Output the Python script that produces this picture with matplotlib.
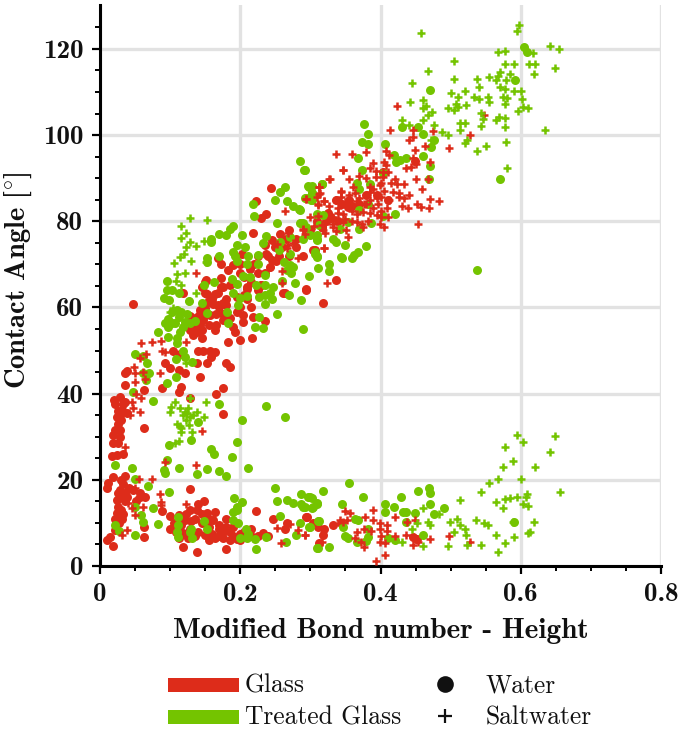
#!/usr/bin/env python3
# -*- coding: utf-8 -*-
"""
Contact angle against modified Bond number
"""

import matplotlib
matplotlib.use('Agg')
import matplotlib.pyplot as plt
from matplotlib.lines import Line2D
from matplotlib.patches import Rectangle
import numpy as np

RED = '#dd2c1a'
GREEN = '#74c400'
GRID = '#e2e2e2'

X_TICKS = [0, 0.2, 0.4, 0.6, 0.8]
X_LABELS = ['0', '0.2', '0.4', '0.6', '0.8']
Y_TICKS = [0, 20, 40, 60, 80, 100, 120]

# (bond number, angle)
glass_water = [
    (.0095,6.0),(.014,6.8),(.018,4.7),(.021,8.4),(.012,19.2),(.019,20.7),(.010,18),(.036,21),(.033,19),(.028,17.6),
    (.036,16.9),(.024,15.3),(.026,13.8),(.024,12.2),(.031,11),(.038,16),(.047,17.6),(.057,16),(.064,16),(.057,17),
    (.128,17.9),(.063,9),(.063,6.8),(.089,12.8),(.1,11.6),(.1,8.7),(.112,11.8),(.121,10.7),(.128,13),(.14,14.5),
    (.149,15.2),(.138,13),(.152,12.2),(.164,12.6),(.161,10.7),(.179,11),(.128,8.7),(.119,7.6),(.145,9.9),(.15,7.2),
    (.164,6.4),(.176,6.4),(.185,6),(.195,6.2),(.216,8.7),(.233,7.6),(.24,7),(.112,6.4),(.118,4.5),(.139,3.3),
    (.179,3.9),(.222,12.8),(.247,11),(.295,11.4),(.266,9.9),(.264,8.7),(.155,9),(.17,8.5),(.185,8),(.2,7.5),
    (.135,7),(.125,6.5),(.16,7.5),(.175,8),(.19,7),(.21,6.8),(.105,10),(.115,9.5),(.13,10.5),(.145,12),
    (.03,13),(.035,15),(.027,10),(.042,18),(.052,15),(.03,20),(.03,16),(.033,12),(.025,17),(.022,11),
    (.156,10.8),(.17,9.5),(.18,9),(.19,9),(.205,8),(.215,7),(.225,7),(.17,7),(.14,8),(.108,8),(.122,12),(.135,11),(.155,6),(.2,6),
    (.294,11.4),(.304,10),(.311,9),(.32,8.7),(.318,7.2),(.332,9.5),(.313,5.4),(.344,9.9),(.447,6.8),(.452,6.2),
    (.021,37.7),(.028,39.3),(.02,38.5),(.033,37.7),(.038,35.4),(.031,36.2),(.024,34.6),(.026,33),(.021,31.6),(.019,30.4),
    (.028,31.6),(.028,30),(.019,28.5),(.026,28.5),(.017,25.6),(.024,25.8),(.033,26),(.063,32),(.036,44.7),(.039,45.2),
    (.036,42.1),(.063,40.8),(.089,41.4),(.112,40.4),(.116,41.5),(.175,41.2),(.165,40),(.175,35.3),(.128,39.1),(.142,43.9),
    (.121,44.7),(.112,45.5),(.1,45.9),(.092,47),(.152,47),(.139,47),(.179,47.2),(.185,46.2),(.157,50),(.164,49.7),
    (.159,48.6),(.147,50),(.14,50),(.114,49.3),(.104,50),(.145,52.8),(.133,53.6),(.199,52.4),(.183,52),(.19,55.5),
    (.192,54.4),(.204,56.7),(.204,58.2),(.218,57.8),(.236,56.9),(.217,53),(.164,54.8),(.138,55.5),(.147,57),(.155,56),
    (.166,58.6),(.176,57),(.142,58.6),(.128,58),(.03,34),(.035,38),(.029,35),(.026,36),
    (.047,60.8),(.244,87.8),(.222,84.7),(.237,81.8),(.23,80.7),(.218,77.2),(.257,77),(.245,75.6),(.235,74.5),(.237,72.5),
    (.203,72.5),(.173,70),(.168,71.4),(.19,69.8),(.183,68.7),(.173,66.9),(.151,66.4),(.145,64.8),(.176,64.8),(.168,63.3),
    (.15,63.3),(.119,63.3),(.209,64.8),(.206,67),(.226,67.9),(.214,69),(.199,67.9),(.251,70.8),(.242,69.4),(.23,65.2),
    (.261,63.3),(.294,64),(.318,61),(.336,66.4),(.304,73.3),(.316,78.7),(.337,84.9),(.354,83.4),
    (.15,66),(.152,63.2),(.164,63.2),(.173,64.8),(.185,65.2),(.209,64.4),(.23,65.2),(.264,63.3),(.294,64.2),
    (.154,61.3),(.161,60.9),(.168,60.5),(.142,59.4),(.15,59.8),(.157,58.2),(.138,57.8),(.147,57.8),(.133,56.3),(.142,56),
    (.128,54.8),(.138,54.4),(.145,54.8),(.176,58.6),(.18,60.6),(.195,62.5),(.2,60),(.21,62),
    (.355,85),(.36,83.5),(.33,80.8),(.322,80),(.317,78.7),(.306,73.3),(.449,94),(.403,91.5),(.28,74),(.27,72),
    (.16,62),(.17,60),(.18,62),(.19,66),(.2,70),(.215,66),(.225,72),(.24,72),(.25,74),(.26,74),(.27,78),
    (.28,76),(.29,72),(.3,78),(.31,80),(.325,82),(.34,80),(.345,84),(.37,84),(.38,86),(.395,86),(.41,85),
    (.165,56),(.175,61),(.185,57.5),(.195,59),(.205,63),(.215,60),(.225,64),(.22,70),(.235,68),(.245,71),(.255,72),(.265,76),
]

treated_water = [
    (.285,94),(.292,91.9),(.264,87.9),(.257,86.7),(.249,85),(.218,84),(.267,84.7),(.275,83.5),(.284,82.8),(.297,88.2),
    (.302,88.3),(.317,88.6),(.303,86.5),(.294,85.5),(.302,84.9),(.22,81.3),(.253,79.7),(.285,79.7),(.29,79.5),(.294,78.7),
    (.19,78.9),(.186,78.3),(.18,76.8),(.17,77),(.202,76.8),(.159,75.3),(.158,76),(.237,76.6),(.271,76.4),(.309,76.8),
    (.309,75.6),(.195,74.5),(.207,74.1),(.19,72.9),(.232,74.9),(.256,75.2),(.255,73.3),(.271,72.5),(.211,72),(.225,72.2),
    (.17,72),(.192,71.9),(.153,71.4),(.152,70.6),(.195,70.9),(.209,70.2),(.226,70.2),(.263,70.6),(.275,69.4),(.271,69.8),
    (.273,68),(.266,68.6),(.278,65.6),(.306,72.9),(.309,71.9),(.345,71.4),(.327,70),(.326,68.4),(.311,69.2),(.298,67.4),
    (.259,66.2),(.188,66.7),(.163,65.8),(.149,65.2),(.236,67.5),(.204,67.2),(.214,67.1),(.195,65.4),(.222,65.2),(.236,65.2),
    (.246,64.8),(.235,62.9),(.242,63.3),(.189,63.3),(.199,62.1),(.209,62.6),(.227,62.5),(.197,60.6),(.235,60.8),(.245,62),
    (.269,62.8),(.287,61.7),(.253,58.4),(.227,57.8),(.145,61),(.127,61.6),(.096,66.2),(.095,64),(.102,64),(.091,62.3),
    (.099,61.7),(.112,63.3),(.181,59),(.153,58.8),(.182,56.5),(.221,55.5),(.233,55.3),(.29,54.9),
    (.093,56.5),(.097,57.4),(.102,59),(.11,59.4),(.116,59),(.124,58.6),(.112,57.8),(.102,56.3),(.107,56.3),(.121,56.7),
    (.128,56.3),(.135,56.9),(.119,55.5),(.114,54.4),(.11,52.8),(.11,51.7),(.097,55.5),(.097,53.2),(.083,54.4),(.119,50),
    (.109,48),(.121,48.4),(.131,47.4),(.108,43.9),(.095,42.4),(.05,49.3),(.062,48.7),(.067,47),(.07,44.9),(.062,44.8),
    (.066,43.2),(.047,40.4),(.075,38.3),(.17,37.6),(.237,37.1),(.264,34.5),(.202,33.9),(.14,33.5),(.13,29.2),(.098,28),
    (.195,28.8),(.159,27.1),(.163,25.9),(.188,25.4),(.096,24.6),(.022,23.4),(.045,22.7),(.091,22.3),(.092,21.5),(.112,22.7),
    (.152,22.5),(.17,22.1),(.138,21.4),(.18,20.9),(.211,22.8),(.05,20.2),(.069,18.6),(.099,17.2),(.249,18.2),(.253,15.2),
    (.266,15.3),(.275,14.7),(.287,16.6),(.287,14.4),(.297,16),(.302,15.7),(.29,13.6),(.303,13.5),(.309,14.5),(.191,15.7),
    (.202,14.9),(.195,13.8),(.19,12.6),(.195,13),(.075,13.4),(.059,11.8),(.061,10.3),(.05,13.8),(.083,9.7),(.05,7.3),
    (.021,9.5),(.027,8.2),(.111,11.3),(.111,9.5),(.11,8),(.111,6.8),(.13,8.7),(.128,8),(.131,6.4),(.149,10.5),
    (.153,8.5),(.19,10.7),(.197,9.9),(.199,6.4),(.208,8.7),(.209,6.4),(.211,7.5),(.221,6.2),(.237,6.8),(.222,3.9),
    (.257,11.6),(.285,10),(.279,7.3),(.265,5.6),(.298,9),(.311,10.5),(.31,4.1),
    (.355,19.3),(.318,17.5),(.299,16),(.309,14.7),(.292,13.8),(.304,13.6),(.345,14.5),(.375,16),(.454,17.5),(.469,18.2),
    (.47,16.9),(.429,15.9),(.406,14.3),(.406,12.6),(.419,13.8),(.432,12.5),(.437,12.5),(.449,12.2),(.471,14.4),(.477,12.1),
    (.491,13.5),(.46,7.2),(.312,10.4),(.299,9),(.311,4.1),(.327,4.5),(.363,10.9),(.368,10.6),(.347,9),(.349,7),
    (.354,6.6),(.366,5.6),(.382,8.7),(.382,6.8),(.38,5.9),(.411,6.6),(.42,6),(.437,10.1),(.591,10.3),
    (.605,120.5),(.609,119.3),(.47,110.4),(.592,112.9),(.571,89.8),(.376,102.6),(.382,100.2),(.374,98.5),(.382,98),(.406,98),
    (.368,94.7),(.431,101.9),(.453,102),(.46,100.2),(.477,98.8),(.472,97.3),(.419,95.5),(.422,93.7),(.437,94.6),(.428,94.2),
    (.46,95.1),(.471,92.9),(.469,89.8),(.374,91.9),(.403,91.2),(.291,91.9),(.298,88),(.317,88.6),(.303,86.6),(.292,85.3),
    (.301,84.9),(.366,88.8),(.37,87.6),(.385,88.6),(.382,84.1),(.37,82.6),(.42,81.8),(.403,81.2),(.387,79.5),(.37,78.3),
    (.309,81.8),(.318,81.4),(.353,79.9),(.342,78.3),(.332,76),(.337,75.2),(.35,74.5),(.38,74.3),(.368,72.9),(.362,72.2),
    (.344,71.6),(.36,71.4),(.306,72.4),(.309,71.8),(.309,76),(.299,76.8),(.29,76),(.287,79.5),(.313,79.1),(.285,82.6),
    (.537,68.7),
]

glass_salt = [
    (.424,106.7),(.414,101.2),(.446,101.3),(.475,100.9),(.527,100),(.548,104.6),(.441,98.8),(.446,99.6),(.463,97.5),(.449,96.5),
    (.497,96.9),(.336,95.6),(.359,95.6),(.38,96),(.408,96.4),(.412,95.4),(.446,94.6),(.451,93.4),(.47,93.8),(.385,92.4),
    (.346,92),(.327,89.9),(.355,89.9),(.405,93.8),(.408,93),(.393,91.7),(.403,91.4),(.393,90.2),(.403,90.2),(.42,89.9),
    (.436,92.3),(.443,92.6),(.451,89.9),(.468,89.9),(.313,88),(.423,88.6),(.434,88.6),(.459,87.4),(.385,88),(.399,88.4),
    (.361,88),(.344,87),(.313,86.3),(.294,85.2),(.344,85.6),(.337,84.9),(.319,84.7),(.311,83.9),(.327,83.5),(.35,84.5),
    (.364,86.5),(.366,84.7),(.385,86.8),(.401,85.6),(.418,86.8),(.427,86.5),(.441,86.2),(.427,85.6),(.434,85.4),(.471,85.1),
    (.484,84.7),(.452,83.9),(.458,83.4),(.469,83.2),(.439,83),(.43,83.5),(.409,83.2),(.385,84.9),(.396,84.1),(.389,83),
    (.376,84.1),(.375,82.2),(.347,81.8),(.401,82.4),(.401,81),(.311,81.2),(.332,81),(.453,79.3),(.399,79.3),(.405,78.7),
    (.366,81.6),(.382,80),(.373,79.3),(.375,78.7),(.351,78),(.354,76.4),(.318,78),(.316,79.2),(.29,78),(.292,77),
    (.319,73.7),(.332,79.3),(.347,79.9),(.366,79.9),
    (.347,92),(.328,89.9),(.312,87.9),(.314,86.5),(.309,85.7),(.294,85.2),(.319,84.8),(.311,83.8),(.264,82.4),(.344,86.9),
    (.289,78.1),(.268,77.4),(.332,78.7),(.337,77.7),(.321,77.2),(.252,74.7),(.275,75),(.266,73.7),(.268,74.5),(.319,73.7),
    (.283,71.4),(.259,68.4),(.259,65.6),(.324,65.6),(.137,68.1),(.242,69.4),
    (.34,83),(.355,86),(.37,85.5),(.38,84),(.39,87.5),(.395,85.5),(.405,87),(.412,85),(.415,89),(.38,90),(.39,93.5),(.4,89),
    (.41,91.5),(.37,90.5),(.36,82.5),(.35,80.5),(.34,82),(.325,80),(.395,81.5),(.41,81),(.385,82),(.36,80),(.3,81),(.305,79),
    (.059,51.7),(.074,52.1),(.087,52.2),(.066,49.2),(.057,48.3),(.088,49.9),(.093,49.6),(.049,46.1),(.05,44.7),(.062,45.1),
    (.064,43.5),(.085,44.7),(.05,42.8),(.052,40),(.059,38.9),(.045,38.1),(.047,36.6),(.043,35),(.057,35.7),(.035,27.7),
    (.146,31.4),(.093,24.2),(.137,23.4),(.055,20.1),(.074,20.1),(.05,18),(.085,16.7),(.087,14.9),(.087,14.1),(.122,14.5),
    (.04,14.7),(.045,13.4),(.055,16),(.062,13.8),(.05,11.8),(.038,8.4),(.031,7.2),(.252,8.9),(.271,9.7),(.283,8.4),
    (.292,7.2),(.258,5.3),(.122,52),
    (.349,12.8),(.357,12.4),(.342,10.7),(.346,10.3),(.352,10.7),(.39,13),(.378,11.3),(.39,10.7),(.42,11.3),(.449,10.7),
    (.438,10.3),(.399,10),(.409,9.5),(.399,8.7),(.409,8.1),(.386,8.2),(.367,8),(.376,8.7),(.363,6.4),(.372,5.6),
    (.377,4.3),(.401,7),(.399,5.6),(.406,5.3),(.42,7),(.436,7.3),(.447,6.7),(.451,6.2),(.447,4.9),(.453,5.6),
    (.47,6.2),(.497,7),(.527,5.6),(.406,2.5),(.394,1.2),(.292,7.2),(.316,5.6),
]

treated_salt = [
    (.458,123.7),(.597,125.6),(.594,124.2),(.642,120.8),(.655,119.9),(.568,119.4),(.578,119.6),(.617,119.1),(.505,117.3),(.577,116.6),
    (.591,116.6),(.612,116.6),(.62,116.6),(.649,115.5),(.468,114.8),(.619,114.2),(.57,114.7),(.568,113.7),(.565,112.9),(.555,113.4),
    (.537,113.1),(.505,113),(.445,112.1),(.585,114.3),(.579,112.8),(.541,111.2),(.521,110.3),(.5,109.8),(.57,111.1),(.578,110.6),
    (.591,110.2),(.6,110.3),(.534,108.9),(.541,108.5),(.553,108.9),(.555,107.7),(.51,108.8),(.574,108.9),(.581,108.6),(.602,108.4),
    (.508,107.3),(.577,107.2),(.522,106.9),(.442,107.8),(.461,108.1),(.465,106.8),(.46,106.2),(.496,106.2),(.505,105.8),(.51,106.6),
    (.603,106.6),(.611,106.2),(.596,105.6),(.473,105.3),(.468,104.7),(.461,103.5),(.544,105.2),(.546,103.8),(.565,103.6),(.569,104.1),
    (.577,104),(.43,103.6),(.44,102.3),(.513,102.7),(.521,102.9),(.544,102.1),(.578,101.9),(.634,101.3),(.513,101.2),(.487,100.8),
    (.496,100),(.524,98.8),(.52,98.2),(.55,97.5),(.579,98.3),(.538,96.3),(.581,92.4),(.477,102.3),(.472,98.8),
    (.595,30.4),(.649,30.2),(.578,27.7),(.603,28.7),(.642,26.4),(.589,24.4),(.575,23),(.62,23),(.568,20.1),(.6,20.1),
    (.555,19.2),(.543,17.1),(.656,17.1),(.513,15.3),(.609,16.7),(.607,15.9),(.594,15.9),(.584,15.7),(.577,15.5),(.565,14.9),
    (.603,14.5),(.611,13.9),(.575,13.4),(.461,13.4),(.483,12.1),(.509,11),(.499,10.3),(.536,10.7),(.547,10),(.553,9.5),
    (.619,10.3),(.468,10.3),(.47,9.4),(.513,9.5),(.521,8.5),(.505,8),(.522,7.2),(.564,7.2),(.591,6.7),(.613,8),
    (.61,7.6),(.445,8.7),(.452,10),(.43,5.6),(.46,4.7),(.496,4.6),(.524,4.9),(.544,4.9),(.577,5.3),(.568,3.3),(.589,10.3),
    (.107,38.1),(.101,37),(.1,35.8),(.114,36.6),(.121,35.8),(.126,36.6),(.138,35.8),(.151,38),(.148,34.6),(.119,35),
    (.128,34.6),(.124,35.5),(.133,35),(.128,38.9),(.11,32.9),(.114,32.6),(.127,32.7),(.131,31.2),(.116,31),(.112,29),
    (.107,28.5),(.123,34),(.116,32),
    (.128,80.7),(.152,80.3),(.116,78.9),(.123,77.2),(.116,76.2),(.128,75.3),(.137,74.3),(.148,75.5),(.123,74.1),(.12,72.4),
    (.114,71.6),(.106,70.4),(.13,70.8),(.151,70.6),(.11,67.8),(.121,68.1),(.108,66.1),(.116,65.2),(.137,63.3),(.127,61.6),
    (.1,59),(.104,59.8),(.123,47),
]


def make_legend(fig):
    # legend sits below the axes, placed by hand in figure coords
    w, h = fig.get_size_inches() * fig.dpi
    for y, color in [(685, RED), (717, GREEN)]:
        fig.add_artist(Rectangle((168 / w, 1 - (y + 7) / h), 71 / w, 14 / h,
                                 transform=fig.transFigure, color=color, lw=0))
    fig.add_artist(Line2D([445 / w], [1 - 684 / h], marker='o', ms=12, color='#111111',
                          ls='', mew=0, transform=fig.transFigure))
    fig.add_artist(Line2D([445 / w], [1 - 716 / h], marker='+', ms=9.5, color='#111111',
                          ls='', mew=1.6, transform=fig.transFigure))
    for x, y, s in [(245, 686, 'Glass'), (245, 718, 'Treated Glass'),
                    (486, 686, 'Water'), (486, 718, 'Saltwater')]:
        fig.text(x / w, 1 - y / h, s, family='cmr10', fontsize=18.4,
                 va='center', ha='left', color='#111111')


def main():
    plt.rcParams['mathtext.fontset'] = 'cm'
    fig = plt.figure(figsize=(6.85, 7.43), dpi=100)
    ax = fig.add_axes([100 / 685, 1 - 566 / 743, 561 / 685, 561 / 743])

    series = [(glass_water, 'o', RED), (treated_water, 'o', GREEN),
              (glass_salt, '+', RED), (treated_salt, '+', GREEN)]
    for pts, marker, color in series:
        arr = np.array(pts)
        if marker == 'o':
            ax.scatter(arr[:, 0], arr[:, 1], s=42, marker='o', color=color, linewidths=0, zorder=3, clip_on=False)
        else:
            ax.scatter(arr[:, 0], arr[:, 1], s=36, marker='+', color=color, linewidths=1.8, zorder=4, clip_on=False)

    ax.set_xlim(0, 0.8)
    ax.set_ylim(0, 130.2)
    ax.set_xticks(X_TICKS)
    ax.set_xticklabels(X_LABELS)
    ax.set_yticks(Y_TICKS)
    ax.set_yticklabels([str(t) for t in Y_TICKS])
    ax.set_xticks(np.arange(0, 0.801, 0.05), minor=True)
    ax.set_yticks(np.arange(0, 130, 5), minor=True)
    ax.grid(True, which='major', color=GRID, lw=2.4, zorder=0)
    ax.set_axisbelow(True)

    ax.spines['top'].set_visible(False)
    ax.spines['right'].set_visible(False)
    ax.spines['left'].set_linewidth(2.2)
    ax.spines['bottom'].set_linewidth(2.2)
    ax.tick_params(which='major', length=6, width=1.6, pad=6)
    ax.tick_params(which='minor', length=3.5, width=1.4)
    for lab in ax.get_xticklabels() + ax.get_yticklabels():
        lab.set_family('cmb10')
        lab.set_fontsize(19.5)
        lab.set_color('#111111')

    ax.set_xlabel('Modified Bond number - Height', family='cmb10', fontsize=21, labelpad=9, color='#111111')
    ax.set_ylabel(r'Contact Angle [$\!^\circ\!$]', family='cmb10', fontsize=20.5, labelpad=6, y=0.51, color='#111111')

    make_legend(fig)
    fig.savefig('out.png', dpi=100)


if __name__ == "__main__":
    main()
